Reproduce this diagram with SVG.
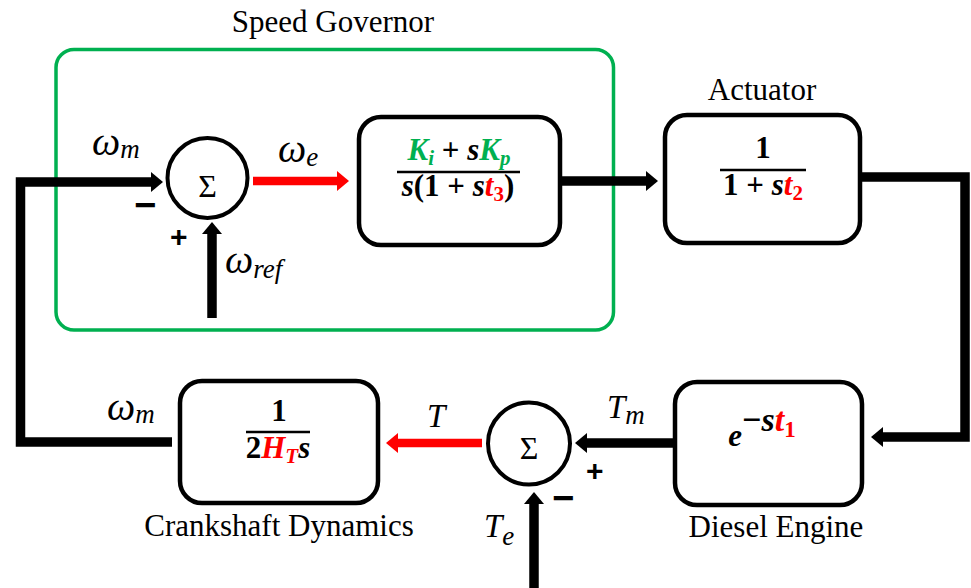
<svg xmlns="http://www.w3.org/2000/svg" width="971" height="588" viewBox="0 0 971 588">
<style>
.box{fill:#fff;stroke:#000;stroke-width:4.5}
.sum{fill:#fff;stroke:#000;stroke-width:4}
.lbl{font-family:'Liberation Serif','Times New Roman',Tinos,'DejaVu Serif',serif;font-size:31px;fill:#000;text-anchor:middle}
.var{font-family:'Liberation Serif','Times New Roman',Tinos,'DejaVu Serif',serif;font-style:italic;fill:#000}
.eq{font-family:'Liberation Serif','Times New Roman',Tinos,'DejaVu Serif',serif;font-weight:bold;font-style:italic;font-size:31px;fill:#000;text-anchor:middle}
.up{font-style:normal}
.g{fill:#00B050}
.r{fill:#FF0000}
.sig{font-family:'Liberation Serif','Times New Roman',Tinos,'DejaVu Serif',serif;font-size:32px;fill:#000;text-anchor:middle}
.sign{font-family:'Liberation Sans',Arial,sans-serif;font-weight:bold;fill:#000}
.conn{fill:none;stroke:#000;stroke-width:9.5;stroke-linejoin:miter}
.red{stroke:#FF0000;stroke-width:8.5}
.frac{stroke:#000;stroke-width:2.5}
</style>
<defs>
<marker id="ah" viewBox="0 0 12 20" refX="0" refY="10" markerWidth="12" markerHeight="20" markerUnits="userSpaceOnUse" orient="auto"><path d="M0,0 L12,10 L0,20 Z" fill="#000"/></marker>
<marker id="ahr" viewBox="0 0 12 20" refX="0" refY="10" markerWidth="12" markerHeight="20" markerUnits="userSpaceOnUse" orient="auto"><path d="M0,0 L12,10 L0,20 Z" fill="#FF0000"/></marker>
</defs>
<rect width="971" height="588" fill="#fff"/>

<g id="speed-governor">
<rect x="56" y="49.5" width="557.5" height="280.5" rx="18" fill="none" stroke="#00B050" stroke-width="3.5"/>
<text class="lbl" x="333" y="32">Speed Governor</text>
</g>

<g id="connectors">
<polyline class="conn" points="172,442 20.5,442 20.5,182 151,182" marker-end="url(#ah)"/>
<line class="conn red" x1="253" y1="181" x2="337" y2="181" marker-end="url(#ahr)"/>
<line class="conn" x1="212" y1="318" x2="212" y2="234" marker-end="url(#ah)"/>
<line class="conn" x1="562" y1="181" x2="646" y2="181" marker-end="url(#ah)"/>
<polyline class="conn" points="862,177 965,177 965,437 883,437" marker-end="url(#ah)"/>
<line class="conn" x1="675" y1="443" x2="587" y2="443" marker-end="url(#ah)"/>
<line class="conn red" x1="482" y1="443" x2="398" y2="443" marker-end="url(#ahr)"/>
<line class="conn" x1="534" y1="588" x2="534" y2="504" marker-end="url(#ah)"/>
</g>

<g id="sum1">
<circle class="sum" cx="207.5" cy="178" r="40"/>
<text class="sig" x="207.5" y="197">Σ</text>
<text class="sign" x="134" y="218" font-size="38">−</text>
<text class="sign" x="170" y="247" font-size="30">+</text>
</g>

<g id="pi-controller">
<rect class="box" x="359" y="117" width="201" height="128" rx="22"/>
<text class="eq" x="459" y="160"><tspan class="g">K</tspan><tspan class="g" font-size="21" dy="5">i</tspan><tspan class="up" dy="-5"> + </tspan><tspan>s</tspan><tspan class="g">K</tspan><tspan class="g" font-size="21" dy="5">p</tspan></text>
<line class="frac" x1="397" y1="172" x2="520" y2="172"/>
<text class="eq" x="458" y="196"><tspan>s</tspan><tspan class="up">(1 + </tspan><tspan>s</tspan><tspan class="r">t</tspan><tspan class="r up" font-size="21" dy="5">3</tspan><tspan class="up" dy="-5">)</tspan></text>
</g>

<g id="actuator">
<rect class="box" x="665" y="115" width="195" height="128" rx="22"/>
<text class="lbl" x="762" y="100">Actuator</text>
<text class="eq up" x="763" y="158">1</text>
<line class="frac" x1="720" y1="170" x2="806" y2="170"/>
<text class="eq" x="763" y="195"><tspan class="up">1 + </tspan><tspan>s</tspan><tspan class="r">t</tspan><tspan class="r up" font-size="21" dy="5">2</tspan></text>
</g>

<g id="diesel-engine">
<rect class="box" x="675" y="382" width="187" height="123" rx="22"/>
<text class="lbl" x="776" y="537">Diesel Engine</text>
<text class="eq" x="762" y="446" font-size="50"><tspan>e</tspan><tspan class="up" font-size="34" dy="-15">−</tspan><tspan font-size="34">s</tspan><tspan class="r" font-size="34">t</tspan><tspan class="r up" font-size="23" dy="6">1</tspan></text>
</g>

<g id="sum2">
<circle class="sum" cx="529" cy="443.5" r="41"/>
<text class="sig" x="529" y="459">Σ</text>
<text class="sign" x="586" y="481" font-size="30">+</text>
<text class="sign" x="552" y="511" font-size="38">−</text>
</g>

<g id="crankshaft">
<rect class="box" x="180" y="381" width="198" height="122" rx="22"/>
<text class="lbl" x="279" y="536">Crankshaft Dynamics</text>
<text class="eq up" x="279" y="421">1</text>
<line class="frac" x1="246" y1="432" x2="310" y2="432"/>
<text class="eq" x="278" y="458"><tspan class="up">2</tspan><tspan class="r">H</tspan><tspan class="r" font-size="21" dy="5">T</tspan><tspan dy="-5">s</tspan></text>
</g>

<g id="signal-labels">
<text class="var" x="92" y="155" font-size="40">ω<tspan font-size="27" dy="3">m</tspan></text>
<text class="var" x="278" y="162" font-size="40">ω<tspan font-size="27" dy="4">e</tspan></text>
<text class="var" x="225" y="273" font-size="40">ω<tspan font-size="27" dy="5">ref</tspan></text>
<text class="var" x="107" y="420" font-size="40">ω<tspan font-size="27" dy="3">m</tspan></text>
<text class="var" x="427" y="427" font-size="33">T</text>
<text class="var" x="607" y="418" font-size="33">T<tspan font-size="27" dy="6">m</tspan></text>
<text class="var" x="484" y="537" font-size="33">T<tspan font-size="27" dy="8">e</tspan></text>
</g>
</svg>
